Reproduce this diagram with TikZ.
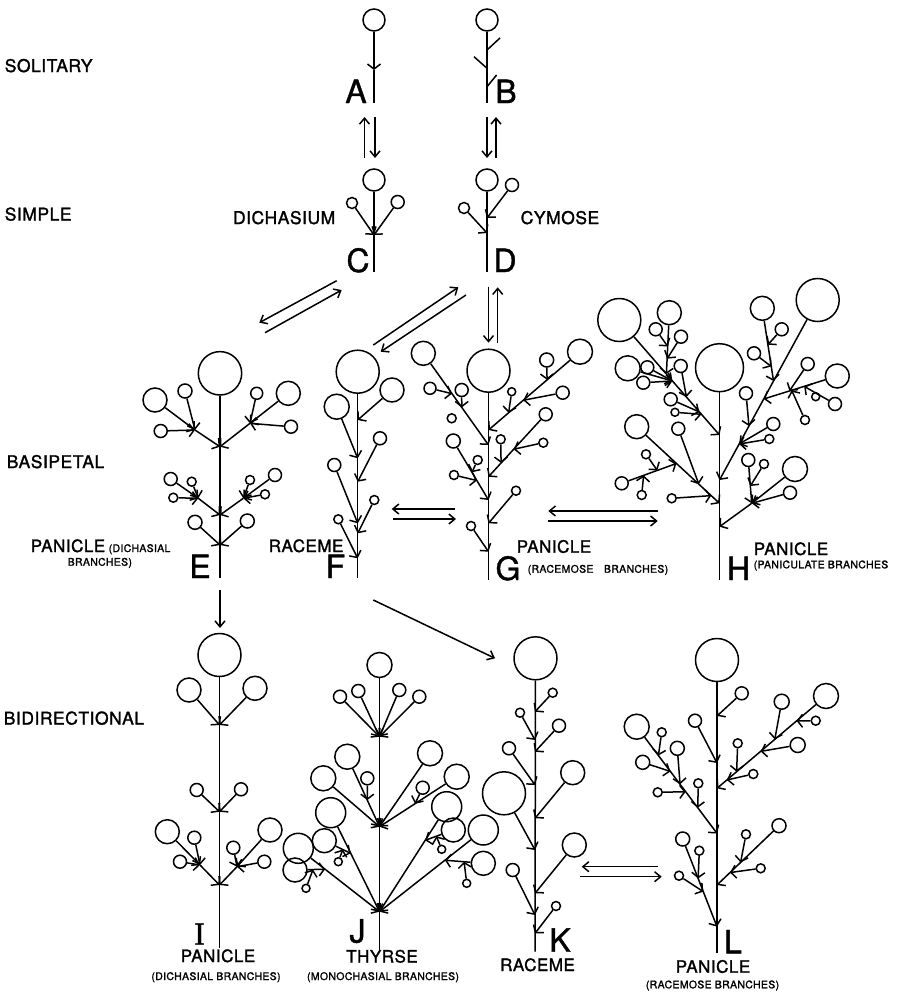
\documentclass[tikz,border=0pt]{standalone}
\usepackage{fontspec}
\setmainfont{TeX Gyre Heros}[FakeBold=1.2]
\newfontfamily\lblfont[LetterSpace=3,FakeBold=1.5]{TeX Gyre Heros}
\newfontfamily\tagfont[FakeBold=1.2]{TeX Gyre Heros}
\newfontfamily\slabfont[FakeBold=1.2]{Liberation Serif}
\usetikzlibrary{arrows.meta,calc}

% a flower on its stalk, barb where the stalk meets its branch
\newcommand{\flower}[4]{%
  \node[flw=#3] (#1) at (#2) {};
  \draw[br] (#1) -- (#4);}

\tikzset{
  flw/.style={draw, circle, inner sep=0pt, minimum size=2*#1},
  br/.style={-{Straight Barb[length=5pt,width=13pt]}},
  conn/.style={-{Straight Barb[length=6pt,width=10pt]}},
  cat/.style={anchor=base west, inner sep=0pt, font=\lblfont\fontsize{17.5}{17.5}\selectfont},
  nm/.style={inner sep=0pt, font=\lblfont\fontsize{17}{17}\selectfont},
  sub/.style={inner sep=0pt, font=\lblfont\fontsize{10.5}{10.5}\selectfont},
  tag/.style={anchor=base, inner sep=0pt, font=\tagfont\fontsize{32}{32}\selectfont},
}

\begin{document}
\begin{tikzpicture}[x=1pt, y=-1pt, line width=1.5pt]
  \useasboundingbox (0,0) rectangle (898,993);

  % row labels
  \node[cat] (solitary) at (4,72) {SOLITARY};
  \node[cat] (simple) at (4,220.5) {SIMPLE};
  \node[cat] (basipetal) at (6,468) {BASIPETAL};
  \node[cat] (bidir) at (3,724.5) {BIDIRECTIONAL};

  % A
  \node[flw=11] (a0) at (374,20) {};
  \draw[br] (a0) -- (374,70);
  \draw (374,70) -- (374,103);
  \node[tag] (la) at (356,103) {A};

  % B
  \node[flw=11] (b0) at (487,20) {};
  \draw (b0) -- (487,103);
  \draw (487,50) -- (500,38) (474,56.7) -- (487,68.3) (487,86.7) -- (496.6,75);
  \node[tag] (lb) at (506,103) {B};

  % C
  \node[flw=11] (c0) at (374,180) {};
  \draw (c0) -- (374,272);
  \flower{c1}{352,203}{5.5}{374,235}
  \flower{c2}{397.7,202}{6.5}{374,235}
  \node[tag] (lc) at (358,272) {C};
  \node[cat, anchor=base east] (dich) at (336,224) {DICHASIUM};

  % D
  \node[flw=11] (d0) at (487,180) {};
  \draw (d0) -- (487,272);
  \flower{d1}{512,185}{6.5}{487,218}
  \flower{d2}{464,208}{5.5}{487,233}
  \node[tag] (ld) at (505,272) {D};
  \node[cat] (cym) at (520,224) {CYMOSE};

  % E
  \node[flw=21.7] (e0) at (220,373.3) {};
  \draw (e0) -- (220,578);
  \coordinate (e1) at (195,430);
  \coordinate (e2) at (250,423.3);
  \coordinate (e3) at (198.3,498.3);
  \coordinate (e4) at (243.3,498.3);
  \draw[br] (e1) -- (220,446.7);
  \draw[br] (e2) -- (220,446.7);
  \draw[br] (e3) -- (220,515);
  \draw[br] (e4) -- (220,515);
  \foreach \cx/\cy/\r/\j in {155/400/12/e1, 185/391/7/e1, 160.7/431/6.5/e1,
      288.3/393.3/12/e2, 256.7/393.3/6/e2, 291/426.7/6.5/e2,
      170.7/479/6.5/e3, 191.7/481.7/4.5/e3, 173.3/497.7/4.5/e3,
      275/475/6.5/e4, 250/480/4.5/e4, 265/494.3/4.5/e4} {
    \node[flw=\r] (f) at (\cx,\cy) {};
    \draw[br] (f) -- (\j);
  }
  \flower{e5}{195,522.3}{7}{220,545}
  \flower{e6}{247.3,521}{7}{220,545}
  \node[tag] (le) at (200,578) {E};
  \node[nm, anchor=base west] (pe) at (30,552) {PANICLE};
  \node[sub, anchor=base west] (se1) at (108,552) {(DICHASIAL};
  \node[sub, anchor=base west] (se2) at (67,565.7) {BRANCHES)};

  % F
  \node[flw=21.5] (f0) at (357.7,371.7) {};
  \draw (f0) -- (357.7,578);
  \foreach \cx/\cy/\r/\jy in {336.7/406.7/12.5/458.3, 392/390/12/420,
      380/438.3/6.5/481.7, 334.3/465/6.5/523.3, 374.3/500/4.5/533.3,
      338.3/519.3/4.5/558.3} {
    \node[flw=\r] (f) at (\cx,\cy) {};
    \draw[br] (f) -- (357.7,\jy);
  }
  \node[tag] (lf) at (335.5,578) {F};
  \node[nm, anchor=base west] (rf) at (268,552) {RACEME};

  % G
  \node[flw=21.5] (g0) at (488.5,370.7) {};
  \draw (g0) -- (488.5,580);
  \flower{g1}{423.3,353.3}{12}{488.5,445}
  \flower{g1a}{430,388.3}{6}{$(g1)!.44!(488.5,445)$}
  \flower{g1b}{461.7,390}{6.5}{$(g1)!.59!(488.5,445)$}
  \node[flw=4.5] (g1c) at (451.7,418.3) {};
  \flower{g2}{453.3,441}{7}{488.5,500}
  \flower{g2a}{477.7,460}{4.5}{$(g2)!.53!(488.5,500)$}
  \flower{g2b}{454,475}{4.5}{$(g2)!.67!(488.5,500)$}
  \flower{g3}{471,526}{4.5}{488.5,551.7}
  \flower{g4}{580,351.7}{12.5}{488.5,430}
  \flower{g4a}{546.7,360}{7}{$(g4)!.36!(488.5,430)$}
  \flower{g4b}{562.7,392.7}{6.5}{$(g4)!.62!(488.5,430)$}
  \flower{g4c}{511.7,391.7}{4}{$(g4)!.78!(488.5,430)$}
  \flower{g5}{545.7,414.3}{6.5}{488.5,476.7}
  \flower{g5a}{543.3,442.7}{4.5}{$(g5)!.56!(488.5,476.7)$}
  \flower{g5b}{500.7,439.3}{4.5}{$(g5)!.78!(488.5,476.7)$}
  \flower{g6}{516,490.7}{4.5}{488.5,523.3}
  \node[tag] (lg) at (508,580) {G};
  \node[nm, anchor=base west] (pg) at (516,552.7) {PANICLE};
  \node[sub, anchor=base west] (sg) at (527,572.7) {(RACEMOSE\quad BRANCHES)};

  % H
  \node[flw=24] (h0) at (719.5,367.7) {};
  \draw (h0) -- (719.5,580);
  \flower{h1}{619.3,320}{21.5}{719.5,435}
  \coordinate (h1p) at ($(h1)!.47!(719.5,435)$);
  \coordinate (h1q) at ($(h1)!.53!(719.5,435)$);
  \flower{h1a}{669.3,312.7}{12}{h1p}
  \flower{h1a1}{655.7,329.3}{6.5}{$(h1a)!.55!(h1p)$}
  \flower{h1a2}{681,336.7}{6.5}{$(h1a)!.75!(h1p)$}
  \flower{h1b}{627.7,368.3}{12.5}{h1q}
  \flower{h1b1}{647.3,367.3}{6.5}{h1q}
  \flower{h1b2}{643.3,382.7}{6.5}{h1q}
  \flower{h1c}{680.7,366}{6.5}{$(h1)!.67!(719.5,435)$}
  \flower{h1d}{670.7,399.3}{6.5}{$(h1)!.8!(719.5,435)$}
  \flower{h1e}{675,412.3}{4}{$(h1)!.82!(719.5,435)$}
  \flower{h2}{636.7,426.7}{12}{719.5,503.3}
  \coordinate (h2p) at ($(h2)!.48!(719.5,503.3)$);
  \flower{h2a}{678.3,428.7}{6.5}{$(h2)!.75!(719.5,503.3)$}
  \flower{h2b}{621.7,483.3}{6.5}{h2p}
  \flower{h2b1}{646,454.3}{4.5}{$(h2b)!.65!(h2p)$}
  \flower{h2b2}{641.7,495}{4.5}{$(h2b)!.4!(h2p)$}
  \flower{h2c}{671.7,498.3}{4.5}{$(h2)!.9!(719.5,503.3)$}
  \flower{h3}{817.7,300}{21.5}{719.5,480}
  \coordinate (h3p) at ($(h3)!.45!(719.5,480)$);
  \coordinate (h3q) at ($(h3)!.55!(719.5,480)$);
  \flower{h3a}{762.3,308.3}{12}{h3p}
  \flower{h3a1}{781.7,329.3}{6.5}{$(h3a)!.5!(h3p)$}
  \flower{h3a2}{754,353.3}{6.5}{$(h3a)!.8!(h3p)$}
  \flower{h3b}{837.3,376}{12}{h3q}
  \flower{h3b1}{807.7,364}{6.5}{$(h3b)!.65!(h3q)$}
  \flower{h3b2}{835,404}{6.5}{$(h3b)!.45!(h3q)$}
  \node[flw=4] (h3b3) at (815.7,396.7) {};
  \flower{h3b4}{805,420}{4.5}{$(h3b)!.62!(h3q)$}
  \flower{h3c}{746,393.3}{6.5}{$(h3)!.7!(719.5,480)$}
  \flower{h3d}{773.3,424}{6.5}{$(h3)!.8!(719.5,480)$}
  \flower{h3e}{769.3,439}{4.5}{$(h3)!.8!(719.5,480)$}
  \coordinate (h4p) at (751.7,503.3);
  \draw[br] (h4p) -- (719.5,526.7);
  \flower{h4a}{795,469}{12.5}{h4p}
  \flower{h4b}{790,492.7}{6.5}{h4p}
  \flower{h4c}{748.3,460}{6.5}{h4p}
  \flower{h4d}{764,464}{4.5}{$(h4c)!.6!(h4p)$}
  \node[tag] (lh) at (738.5,580) {H};
  \node[nm, anchor=base west] (ph) at (753,555) {PANICLE};
  \node[sub, anchor=base west] (sh) at (753,568.3) {(PANICULATE BRANCHES};

  % I
  \node[flw=21.5] (i0) at (219.5,655) {};
  \draw (i0) -- (219.5,948);
  \flower{i1}{189,690}{12}{219.5,725}
  \flower{i2}{255,688.3}{12}{219.5,725}
  \flower{i3}{196.7,790}{6.5}{219.5,811.7}
  \flower{i4}{241,789.3}{6.5}{219.5,811.7}
  \coordinate (i5) at (200,865);
  \coordinate (i6) at (237,866.7);
  \draw[br] (i5) -- (219.5,885);
  \draw[br] (i6) -- (219.5,885);
  \foreach \cx/\cy/\r/\j in {167.3/831.7/12/i5, 194.3/837.7/6.5/i5, 180/861.7/6.5/i5,
      270/830/12/i6, 233.3/847.7/6.5/i6, 264.3/861.7/6.5/i6} {
    \node[flw=\r] (f) at (\cx,\cy) {};
    \draw[br] (f) -- (\j);
  }
  \node[tag] (li) at (199.5,944.5) {\slabfont I};
  \node[nm, anchor=base] (pi) at (218,962) {PANICLE};
  \node[sub, anchor=base] (si) at (216,980) {(DICHASIAL BRANCHES)};

  % J
  \node[flw=12.5] (j0) at (379.5,665) {};
  \draw (j0) -- (379.5,950);
  \foreach \cx/\cy in {340/696.7, 358.3/691, 399.3/690, 419.3/696.7} {
    \node[flw=6.5] (f) at (\cx,\cy) {};
    \draw[br] (f) -- (379.5,736.7);
  }
  \flower{j1}{347.3,756.7}{12.5}{379.5,826.7}
  \flower{j2}{323.3,778.3}{12.5}{379.5,826.7}
  \flower{j3}{430,753.3}{12.5}{379.5,826.7}
  \flower{j4}{456.7,776.7}{12.5}{379.5,826.7}
  \flower{j1a}{367.3,778.3}{6.5}{$(j1)!.62!(379.5,826.7)$}
  \flower{j4a}{422.7,787.7}{6.5}{$(j4)!.54!(379.5,826.7)$}
  \flower{j5}{330.7,812.7}{15}{379.5,911.7}
  \flower{j6}{298.3,848.3}{15}{379.5,911.7}
  \flower{j7}{446.7,806.7}{15}{379.5,911.7}
  \flower{j8}{483.3,830}{15}{379.5,911.7}
  \flower{j5a}{324.3,840.7}{12}{350.7,853.3}
  \flower{j6a}{295,870}{12}{325.1,869.2}
  \flower{j7a}{453.3,830}{12}{425.2,840.3}
  \flower{j8a}{483.3,863.3}{12}{444.9,860.2}
  \flower{j5b}{338.3,861.7}{4}{342.8,849.5}
  \flower{j6b}{306,888.3}{4}{313,869.5}
  \flower{j7b}{441.7,849.3}{4}{436.4,836.2}
  \flower{j8b}{466.7,883.3}{4}{464.1,861.8}
  \node[tag] (lj) at (357.5,942.5) {J};
  \node[nm, anchor=base] (tj) at (382,962.5) {THYRSE};
  \node[sub, anchor=base] (sj) at (383,980) {(MONOCHASIAL BRANCHES)};

  % K
  \node[flw=21.5] (k0) at (535.5,658.3) {};
  \draw (k0) -- (535,951.7);
  \foreach \cx/\cy/\r/\jy in {552.7/692.7/4.5/711.7, 520/712.7/4.5/740,
      559/725.7/6.5/751.7, 509/748.3/6.5/785, 572.7/772.7/12/818.3,
      504/793.3/21.5/850, 574.3/845/12/893.3, 512.7/870/6.5/915,
      556/906/4.5/933.3} {
    \node[flw=\r] (f) at (\cx,\cy) {};
    \draw[br] (f) -- (535,\jy);
  }
  \node[tag] (lk) at (560,951.7) {K};
  \node[nm, anchor=base] (rk) at (537.5,971) {RACEME};

  % L
  \node[flw=21.5] (l0) at (717,660) {};
  \draw (l0) -- (717,953.3);
  \flower{l1}{741.7,693.3}{6.5}{717,716}
  \flower{l2}{695,720.7}{6.5}{717,763}
  \flower{l3}{826,696}{12.5}{717,788.3}
  \foreach \cx/\cy/\r/\t in {781.7/701.7/7.5/.47, 815.7/720.7/4.5/.27,
      797.7/745/7.5/.6, 737.7/743.3/4.5/.82, 753.3/774/4.5/.91} {
    \flower{f}{\cx,\cy}{\r}{$(l3)!\t!(717,788.3)$}
  }
  \flower{l4}{636.7,726.7}{12.5}{717,833.3}
  \foreach \cx/\cy/\r/\t in {661.7/732.3/4.5/.27, 677.3/748.3/7/.54,
      642.7/762.3/7/.42, 657.7/792.3/4.5/.61, 698.3/783.3/4.5/.76} {
    \flower{f}{\cx,\cy}{\r}{$(l4)!\t!(717,833.3)$}
  }
  \flower{l5}{779,825.7}{7}{717,885}
  \flower{l5a}{746,834.3}{4.5}{$(l5)!.62!(717,885)$}
  \flower{l5b}{760.7,868.3}{4.5}{$(l5)!.79!(717,885)$}
  \flower{l6}{682.7,839}{7}{717,926.7}
  \flower{l6a}{699.3,850.7}{4.5}{$(l6)!.45!(717,926.7)$}
  \flower{l6b}{679,875.7}{4.5}{$(l6)!.6!(717,926.7)$}
  \node[tag] (ll) at (733,953.3) {L};
  \node[nm, anchor=base] (pl) at (713,972.7) {PANICLE};
  \node[sub, anchor=base] (sl) at (712.5,988.3) {(RACEMOSE BRANCHES)};

  % connectors
  \coordinate (ac1) at (364.5,158); \coordinate (ac2) at (364.5,117);
  \coordinate (ac3) at (375,117);   \coordinate (ac4) at (375,158);
  \coordinate (bd1) at (487,117);   \coordinate (bd2) at (487,158);
  \coordinate (bd3) at (496,158);   \coordinate (bd4) at (496,117);
  \coordinate (ce1) at (336.7,280.7); \coordinate (ce2) at (259.3,322.7);
  \coordinate (ce3) at (265,332.7);   \coordinate (ce4) at (341.7,290);
  \coordinate (df1) at (373.3,345);   \coordinate (df2) at (458.3,287.3);
  \coordinate (df3) at (466,295);     \coordinate (df4) at (380.7,351.7);
  \coordinate (dg1) at (488.5,286.7); \coordinate (dg2) at (488.5,342.7);
  \coordinate (dg3) at (497.7,342.7); \coordinate (dg4) at (497.7,287.3);
  \coordinate (fg1) at (455,509);     \coordinate (fg2) at (391.7,509);
  \coordinate (fg3) at (393.3,519);   \coordinate (fg4) at (456,519);
  \coordinate (gh1) at (658.3,511);   \coordinate (gh2) at (548.3,511);
  \coordinate (gh3) at (547.7,521);   \coordinate (gh4) at (657.7,521);
  \coordinate (ei1) at (220,590);     \coordinate (ei2) at (220,628);
  \coordinate (fk1) at (373.3,600);   \coordinate (fk2) at (495,658.3);
  \coordinate (kl1) at (658.3,866.7); \coordinate (kl2) at (581.7,866.7);
  \coordinate (kl3) at (580,876.7);   \coordinate (kl4) at (661.7,876.7);
  \foreach \p/\q in {ac1/ac2, ac3/ac4, bd1/bd2, bd3/bd4, ce1/ce2, ce3/ce4,
      df1/df2, df3/df4, dg1/dg2, dg3/dg4, fg1/fg2, fg3/fg4, gh1/gh2, gh3/gh4,
      ei1/ei2, fk1/fk2, kl1/kl2, kl3/kl4}
    \draw[conn] (\p) -- (\q);
\end{tikzpicture}
\end{document}
